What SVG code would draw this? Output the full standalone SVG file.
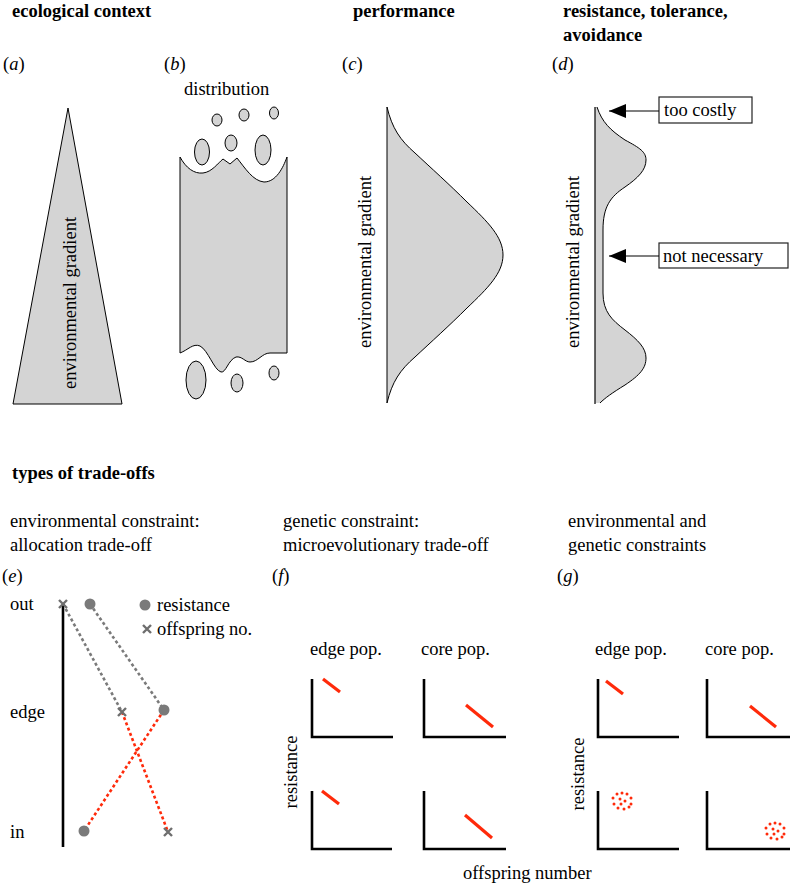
<svg xmlns="http://www.w3.org/2000/svg" width="790" height="884" viewBox="0 0 790 884">
<defs>
<style>
text{font-family:"Liberation Serif","Times New Roman",serif;font-size:18.5px;fill:#000}
.b{font-weight:bold}
.it{font-style:italic}
.shape{fill:#d4d4d4;stroke:#000;stroke-width:1}
.ax{fill:none;stroke:#000;stroke-width:2.6}
.red{stroke:#ff2a0a;stroke-width:3.2;fill:none}
.box{fill:#fff;stroke:#222;stroke-width:1.2}
.arr{stroke:#000;stroke-width:1.2;fill:none}
.gd{stroke:#7a7a7a;stroke-width:2.6;stroke-dasharray:3 2.6;fill:none}
.rd{stroke:#ff2a0a;stroke-width:2.6;stroke-dasharray:3 2.6;fill:none}
.dot{fill:#7a7a7a}
.xm{stroke:#6e6e6e;stroke-width:2.4;fill:none}
.rdot{fill:#ff2a0a}
</style>
<marker id="ah" markerUnits="userSpaceOnUse" markerWidth="17" markerHeight="14" refX="17" refY="7" orient="auto">
<path d="M0,0 L17,7 L0,14 Z" fill="#000"/>
</marker>
<g id="xmark"><path class="xm" d="M-4,-4 L4,4 M-4,4 L4,-4"/></g>
<g id="cluster">
<circle class="rdot" cx="-5" cy="-7" r="1.5"/><circle class="rdot" cx="0" cy="-8" r="1.5"/><circle class="rdot" cx="5" cy="-7" r="1.5"/>
<circle class="rdot" cx="-9" cy="-3" r="1.5"/><circle class="rdot" cx="9" cy="-3" r="1.5"/>
<circle class="rdot" cx="-8" cy="3" r="1.5"/><circle class="rdot" cx="9" cy="3" r="1.5"/>
<circle class="rdot" cx="-4" cy="7" r="1.5"/><circle class="rdot" cx="2" cy="8" r="1.5"/><circle class="rdot" cx="7" cy="6" r="1.5"/>
<circle class="rdot" cx="-2" cy="-2" r="1.5"/><circle class="rdot" cx="3" cy="0" r="1.5"/><circle class="rdot" cx="-1" cy="3" r="1.5"/>
</g>
</defs>
<rect width="790" height="884" fill="#fff"/>

<g id="titles">
<text class="b" x="12" y="17">ecological context</text>
<text class="b" x="353" y="17">performance</text>
<text class="b" x="563" y="17">resistance, tolerance,</text>
<text class="b" x="563" y="41">avoidance</text>
<text class="b" x="12" y="479">types of trade-offs</text>
<text x="10" y="527">environmental constraint:</text>
<text x="10" y="551">allocation trade-off</text>
<text x="283" y="527">genetic constraint:</text>
<text x="283" y="551">microevolutionary trade-off</text>
<text x="568" y="527">environmental and</text>
<text x="568" y="551">genetic constraints</text>
</g>

<g id="panel-a">
<text x="3" y="70">(<tspan class="it">a</tspan>)</text>
<path class="shape" d="M68,108 L122,404 L13,404 Z"/>
<text transform="translate(76,303) rotate(-90)" text-anchor="middle">environmental gradient</text>
</g>

<g id="panel-b">
<text x="164" y="70">(<tspan class="it">b</tspan>)</text>
<text x="184" y="95">distribution</text>
<ellipse class="shape" cx="217" cy="120" rx="5" ry="6"/>
<ellipse class="shape" cx="244" cy="115" rx="5" ry="6"/>
<ellipse class="shape" cx="274" cy="113" rx="4.5" ry="6"/>
<ellipse class="shape" cx="202" cy="152" rx="7.5" ry="13"/>
<ellipse class="shape" cx="231" cy="143" rx="6" ry="8"/>
<ellipse class="shape" cx="263" cy="150" rx="8" ry="15"/>
<path class="shape" d="M180,157 C186,168 194,174 203,173 C212,172 218,163 223,159 L230,164 L237,158 C245,168 253,181 264,182 C276,182 283,168 287,157 L287,353 L270,353 C262,353 258,362 250,362 C245,362 242,356 236,357 C228,360 226,373 221,372 C214,370 208,350 200,346 C193,343 188,350 180,353 Z"/>
<ellipse class="shape" cx="196" cy="380" rx="10" ry="19"/>
<ellipse class="shape" cx="237" cy="383" rx="6" ry="9"/>
<ellipse class="shape" cx="274" cy="373" rx="5" ry="7"/>
</g>

<g id="panel-c">
<text x="342" y="70">(<tspan class="it">c</tspan>)</text>
<path class="shape" d="M387,107 C392,128 400,140 415,153 C430,167 450,185 467,202 C488,222 503,237 503,255 C503,273 488,288 467,308 C450,325 430,343 415,357 C400,370 392,382 387,403 Z"/>
<text transform="translate(371,262) rotate(-90)" text-anchor="middle">environmental gradient</text>
</g>

<g id="panel-d">
<text x="552" y="70">(<tspan class="it">d</tspan>)</text>
<path class="shape" d="M595,107 L597,107 C602,122 610,130 625,140 C640,148 646,152 646,160 C646,170 638,178 625,187 C610,197 603,207 603,230 L603,293 C603,312 612,320 625,330 C638,340 646,348 646,358 C646,368 640,375 625,385 C612,393 605,398 600,403 L595,403 Z" style="stroke:none"/>
<path fill="none" stroke="#000" stroke-width="1" d="M597,107 C602,122 610,130 625,140 C640,148 646,152 646,160 C646,170 638,178 625,187 C610,197 603,207 603,230 L603,293 C603,312 612,320 625,330 C638,340 646,348 646,358 C646,368 640,375 625,385 C612,393 605,398 600,403"/>
<line x1="595" y1="107" x2="595" y2="404" stroke="#000" stroke-width="1.2"/>
<text transform="translate(579,262) rotate(-90)" text-anchor="middle">environmental gradient</text>
</g>

<g id="box-too-costly">
<rect class="box" x="659" y="97" width="93" height="26"/>
<text x="664" y="116">too costly</text>
</g>
<g id="box-not-necessary">
<rect class="box" x="659" y="243" width="129" height="25"/>
<text x="663" y="262">not necessary</text>
</g>

<g id="connectors">
<line class="arr" x1="659" y1="111" x2="609" y2="111" marker-end="url(#ah)"/>
<line class="arr" x1="659" y1="256" x2="609" y2="256" marker-end="url(#ah)"/>
<line class="gd" x1="63" y1="604" x2="122" y2="712"/>
<line class="gd" x1="90" y1="604" x2="164" y2="710"/>
<line class="rd" x1="122" y1="712" x2="168" y2="832"/>
<line class="rd" x1="164" y1="710" x2="84" y2="831"/>
</g>

<g id="panel-e">
<text x="2" y="582">(<tspan class="it">e</tspan>)</text>
<text x="10" y="610">out</text>
<text x="10" y="718">edge</text>
<text x="10" y="838">in</text>
<line x1="63" y1="604" x2="63" y2="847" stroke="#000" stroke-width="2.6"/>
<use href="#xmark" x="63" y="604"/>
<circle class="dot" cx="90" cy="604" r="5.5"/>
<use href="#xmark" x="122" y="712"/>
<circle class="dot" cx="164" cy="710" r="5.5"/>
<circle class="dot" cx="84" cy="831" r="5.5"/>
<use href="#xmark" x="168" y="832"/>
<circle class="dot" cx="145" cy="605" r="5.5"/>
<text x="157" y="611">resistance</text>
<use href="#xmark" x="147" y="629"/>
<text x="157" y="635">offspring no.</text>
</g>

<g id="panel-f">
<text x="272" y="582">(<tspan class="it">f</tspan>)</text>
<text x="310" y="655">edge pop.</text>
<text x="421" y="655">core pop.</text>
<path class="ax" d="M312,679 L312,737 L393,737"/>
<line class="red" x1="323" y1="679" x2="340" y2="692"/>
<path class="ax" d="M424,679 L424,737 L506,737"/>
<line class="red" x1="466" y1="705" x2="493" y2="727"/>
<path class="ax" d="M312,791 L312,849 L392,849"/>
<line class="red" x1="322" y1="791" x2="339" y2="804"/>
<path class="ax" d="M424,791 L424,849 L506,849"/>
<line class="red" x1="465" y1="815" x2="492" y2="838"/>
<text transform="translate(297,772) rotate(-90)" text-anchor="middle">resistance</text>
<text x="463" y="879">offspring number</text>
</g>

<g id="panel-g">
<text x="557" y="582">(<tspan class="it">g</tspan>)</text>
<text x="595" y="655">edge pop.</text>
<text x="705" y="655">core pop.</text>
<path class="ax" d="M598,679 L598,737 L679,737"/>
<line class="red" x1="606" y1="681" x2="623" y2="694"/>
<path class="ax" d="M707,679 L707,737 L790,737"/>
<line class="red" x1="750" y1="706" x2="776" y2="727"/>
<path class="ax" d="M598,791 L598,849 L679,849"/>
<use href="#cluster" x="622" y="801"/>
<path class="ax" d="M707,791 L707,849 L790,849"/>
<use href="#cluster" x="775" y="831"/>
<text transform="translate(584,774) rotate(-90)" text-anchor="middle">resistance</text>
</g>
</svg>
